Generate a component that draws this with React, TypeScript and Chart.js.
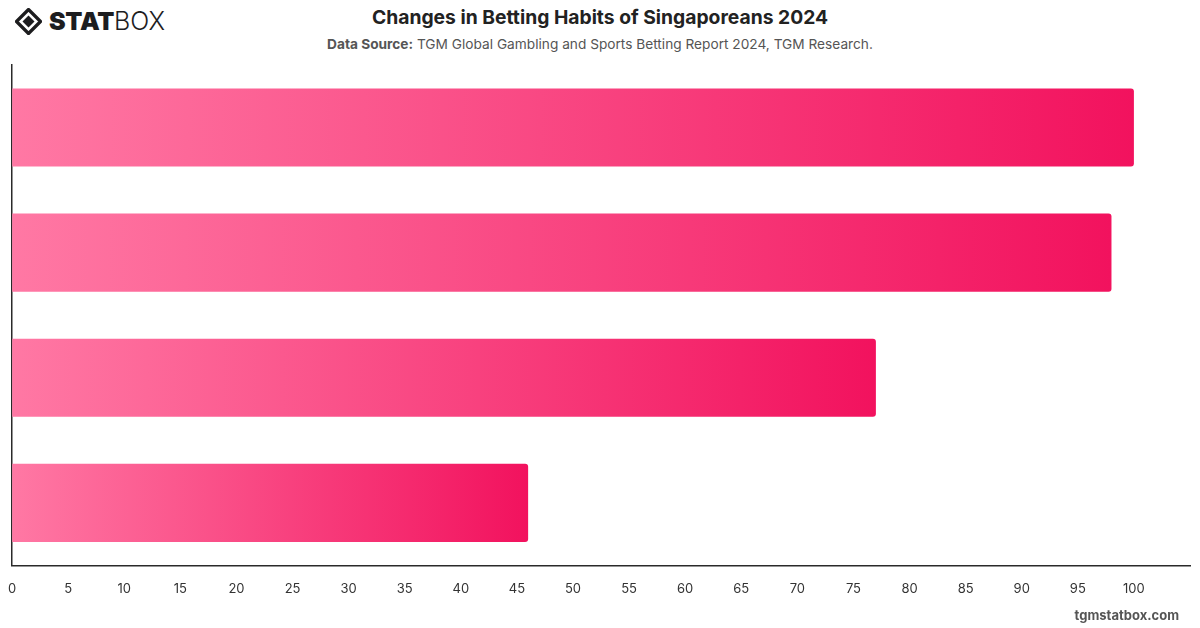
import React, { useEffect, useRef } from "react";
import { Chart, registerables } from "chart.js";

Chart.register(...registerables);

// Bar categories (the chart shows no category labels) and their values in %
const categories: string[] = ["", "", "", ""];
const values: number[] = [100, 98, 77, 46];
const xTickMax = 100;
const axisMax = 105;

const colorStart = "#ff78a4";
const colorEnd = "#f2125e";
const FONT = "Inter, 'Noto Sans', 'Liberation Sans', sans-serif";

function Logo() {
  return (
    <div style={{ position: "absolute", left: 15, top: 7, display: "flex", alignItems: "center", height: 28 }}>
      <svg width="27" height="27" viewBox="0 0 27 27" style={{ marginRight: 7 }}>
        <path d="M13.5 1.5 L25.5 13.5 L13.5 25.5 L1.5 13.5 Z" fill="none" stroke="#1d1d1f" strokeWidth="3.2" strokeLinejoin="round" />
        <path d="M13.5 7.5 L19.5 13.5 L13.5 19.5 L7.5 13.5 Z" fill="#1d1d1f" />
      </svg>
      <span style={{ fontFamily: FONT, fontWeight: 900, fontSize: 25, color: "#1d1d1f", letterSpacing: -0.3, lineHeight: "28px" }}>STAT</span>
      <span style={{ fontFamily: FONT, fontWeight: 300, fontSize: 25, color: "#1d1d1f", lineHeight: "28px" }}>BOX</span>
    </div>
  );
}

export default function App() {
  const canvasRef = useRef<HTMLCanvasElement | null>(null);

  useEffect(() => {
    if (!canvasRef.current) return;
    const chart = new Chart(canvasRef.current, {
      type: "bar",
      data: {
        labels: categories,
        datasets: [
          {
            data: values,
            backgroundColor: (ctx: any) => {
              const c = ctx.chart;
              const xs = c.scales?.x;
              if (!c.chartArea || !xs || ctx.dataIndex === undefined) return colorEnd;
              const x0 = xs.getPixelForValue(0);
              const x1 = xs.getPixelForValue(values[ctx.dataIndex]);
              const g = c.ctx.createLinearGradient(x0, 0, x1, 0);
              g.addColorStop(0, colorStart);
              g.addColorStop(1, colorEnd);
              return g;
            },
            borderRadius: 3,
            borderSkipped: "start",
            categoryPercentage: 0.78,
            barPercentage: 0.8,
          },
        ],
      },
      options: {
        indexAxis: "y",
        responsive: false,
        animation: false,
        layout: { padding: { left: 3, right: 10, top: 65, bottom: 23 } },
        plugins: {
          legend: { display: false },
          tooltip: { enabled: false },
        },
        scales: {
          x: {
            min: 0,
            max: axisMax,
            grid: { display: false },
            border: { display: true, color: "#2a2a2a", width: 1.5 },
            ticks: {
              stepSize: 5,
              padding: 8,
              color: "#333",
              font: { family: FONT, size: 13 },
              maxRotation: 0,
              autoSkip: false,
              callback: (v: any) => (Number(v) <= xTickMax ? String(v) : null),
            },
          },
          y: {
            grid: { display: false },
            border: { display: true, color: "#2a2a2a", width: 1.5 },
            ticks: { display: false },
          },
        },
      },
    });
    return () => chart.destroy();
  }, []);

  return (
    <div style={{ position: "fixed", left: 0, top: 0, width: 1200, height: 628, background: "#fff", overflow: "hidden" }}>
      <Logo />
      <div style={{ position: "absolute", left: 0, width: 1200, top: 5, textAlign: "center", fontFamily: FONT, fontWeight: 700, fontSize: 19.3, color: "#222", lineHeight: "24px" }}>
        Changes in Betting Habits of Singaporeans 2024
      </div>
      <div style={{ position: "absolute", left: 0, width: 1200, top: 35, textAlign: "center", fontFamily: FONT, fontSize: 13.7, color: "#555", lineHeight: "18px" }}>
        <b>Data Source:</b> TGM Global Gambling and Sports Betting Report 2024, TGM Research.
      </div>
      <canvas ref={canvasRef} width={1200} height={628} style={{ position: "absolute", left: 0, top: 0 }} />
      <div style={{ position: "absolute", right: 21, top: 606, fontFamily: FONT, fontWeight: 700, fontSize: 13, color: "#555", lineHeight: "18px" }}>
        tgmstatbox.com
      </div>
    </div>
  );
}
